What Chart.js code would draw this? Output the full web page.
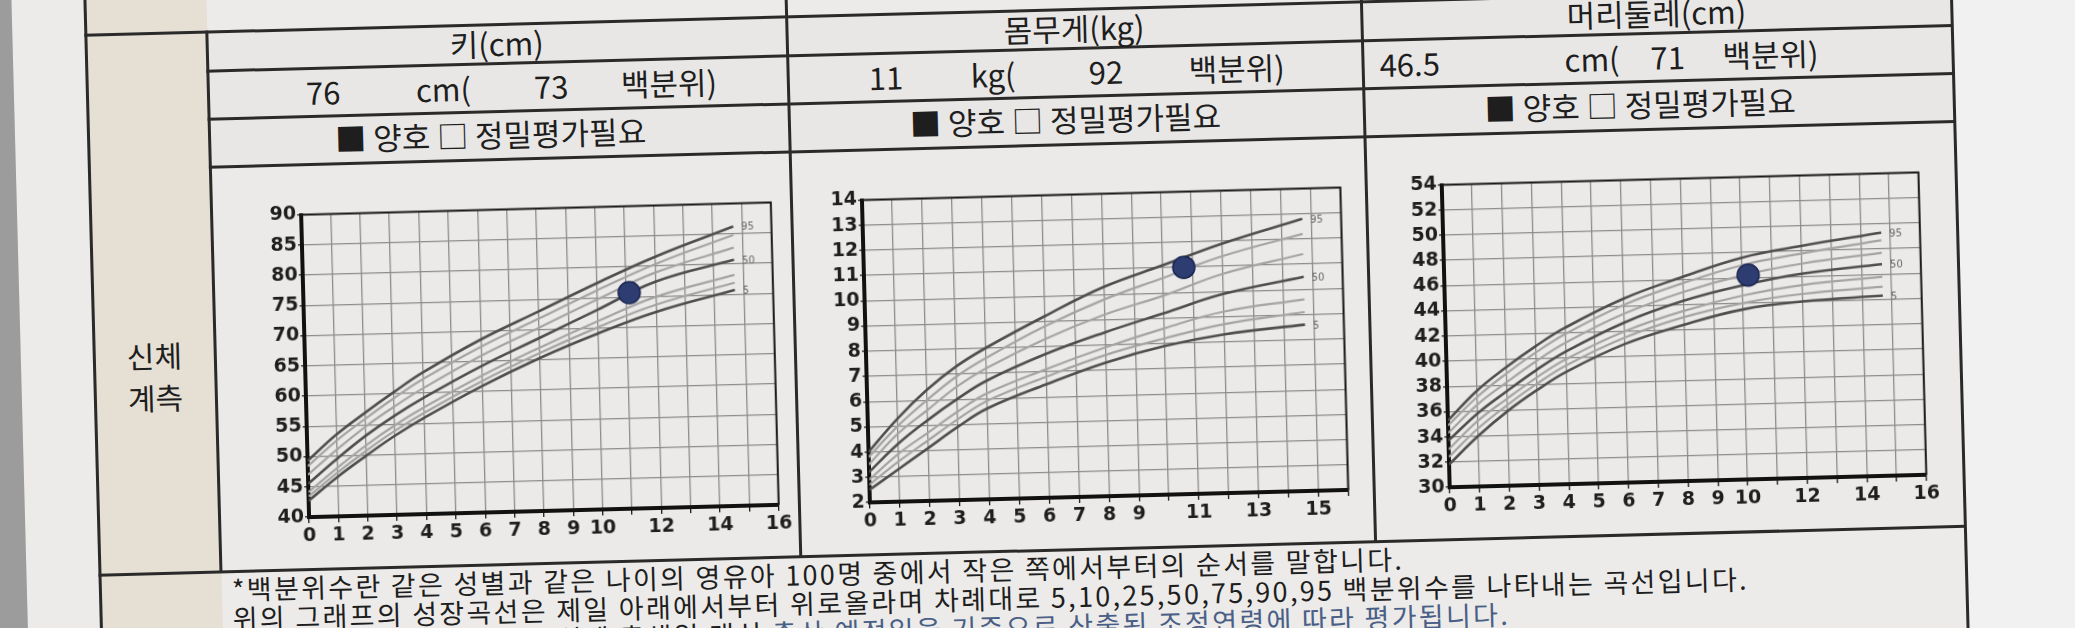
<!DOCTYPE html>
<html><head><meta charset="utf-8">
<script src="https://cdn.jsdelivr.net/npm/chart.js@4"></script>
<style>
html,body{margin:0;padding:0;width:2075px;height:628px;overflow:hidden;background:#8f8f8f;font-family:"Noto Sans CJK KR","Noto Sans",sans-serif;}
#page{position:absolute;left:0;top:0;width:2075px;height:628px;transform:rotate(-1.5deg);transform-origin:1037px 314px;}
.abs{position:absolute;}
.txt{position:absolute;color:#1e1e1e;font-size:31px;white-space:pre;}
.fn{position:absolute;color:#1e1e1e;font-size:27px;letter-spacing:2.3px;white-space:pre;line-height:29px;left:225px;}
.hl{position:absolute;height:3px;background:#2a2a2a;}
.vl{position:absolute;width:3px;background:#2a2a2a;}
canvas{position:absolute;}
</style></head><body>
<div id="page">
  <div class="abs" style="left:-60px;top:-60px;width:80px;height:760px;background:#9c9c9c"></div>
  <div class="abs" style="left:20px;top:-60px;width:1960px;height:760px;background:#ecebe9"></div>
  <div class="abs" style="left:1960px;top:-60px;width:200px;height:760px;background:#f1f1f2"></div>
  <div class="abs" style="left:92px;top:-60px;width:123px;height:760px;background:#e6dfd3"></div>
  <div class="abs" style="left:215px;top:9px;width:1745px;height:135px;background:#e8e7e5"></div>
  <div class="abs" style="left:215px;top:144px;width:1745px;height:406px;background:#eceae8"></div>
  <div class="vl" style="left:92px;top:-60px;height:760px"></div>
  <div class="vl" style="left:213px;top:9px;height:541px"></div>
  <div class="vl" style="left:793px;top:-60px;height:610px"></div>
  <div class="vl" style="left:1368px;top:-60px;height:610px"></div>
  <div class="vl" style="left:1958px;top:-60px;height:760px"></div>
  <div class="hl" style="left:92px;top:9px;width:1868px"></div>
  <div class="hl" style="left:213px;top:48px;width:1747px"></div>
  <div class="hl" style="left:213px;top:96px;width:1747px"></div>
  <div class="hl" style="left:213px;top:144px;width:1747px"></div>
  <div class="hl" style="left:92px;top:549px;width:1868px"></div>

  <div class="txt" style="left:215px;width:578px;top:9px;text-align:center;line-height:39px">키(cm)</div>
  <div class="txt" style="left:795px;width:573px;top:9px;text-align:center;line-height:39px">몸무게(kg)</div>
  <div class="txt" style="left:1370px;width:588px;top:9px;text-align:center;line-height:39px">머리둘레(cm)</div>

  <div class="txt" style="left:312px;top:51px;line-height:44px">76</div>
  <div class="txt" style="left:422px;top:51px;line-height:44px">cm(</div>
  <div class="txt" style="left:540px;top:51px;line-height:44px">73</div>
  <div class="txt" style="left:627px;top:51px;line-height:44px">백분위)</div>
  <div class="txt" style="left:875px;top:51px;line-height:44px">11</div>
  <div class="txt" style="left:977px;top:51px;line-height:44px">kg(</div>
  <div class="txt" style="left:1095px;top:51px;line-height:44px">92</div>
  <div class="txt" style="left:1195px;top:51px;line-height:44px">백분위)</div>
  <div class="txt" style="left:1386px;top:51px;line-height:44px">46.5</div>
  <div class="txt" style="left:1571px;top:51px;line-height:44px">cm(</div>
  <div class="txt" style="left:1657px;top:51px;line-height:44px">71</div>
  <div class="txt" style="left:1729px;top:51px;line-height:44px">백분위)</div>

  <div class="txt" style="left:340px;top:98px;line-height:44px">■ 양호 □ 정밀평가필요</div>
  <div class="txt" style="left:915px;top:98px;line-height:44px">■ 양호 □ 정밀평가필요</div>
  <div class="txt" style="left:1490px;top:98px;line-height:44px">■ 양호 □ 정밀평가필요</div>

  <div class="txt" style="left:126px;top:312px;line-height:40px;font-size:30px">신체</div>
  <div class="txt" style="left:126px;top:354px;line-height:40px;font-size:30px">계측</div>

  <canvas id="c1" style="left:256px;top:183px" width="533" height="345"></canvas>
  <canvas id="c2" style="left:817px;top:183px" width="539" height="345"></canvas>
  <canvas id="c3" style="left:1397px;top:183px" width="540" height="345"></canvas>

  <div class="fn" style="top:553px">*백분위수란 같은 성별과 같은 나이의 영유아 100명 중에서 작은 쪽에서부터의 순서를 말합니다.</div>
  <div class="fn" style="top:582px">위의 그래프의 성장곡선은 제일 아래에서부터 위로올라며 차례대로 5,10,25,50,75,90,95 백분위수를 나타내는 곡선입니다.</div>
  <div class="fn" style="top:611px">조산으로 출생한 영유아는 실제 출생일 대신 <span style="color:#4a5f86">출산 예정일을 기준으로 산출된 조정연령에 따라 평가됩니다.</span></div>
</div>
<script>
// ages (months) at which the percentile curves are read
const ages = [0,1,2,3,4,6,8,10,12,14.7];

// Height (cm)
const h5  = [42.7,46.5,49.9,53.1,55.9,60.9,65.3,69.1,72.4,75.7];
const h10 = [43.4,47.2,50.7,53.9,56.7,61.7,66.1,70.1,73.6,76.9];
const h25 = [44.1,48.0,51.6,54.8,57.6,62.6,67.0,71.1,74.9,78.2];
const h50 = [45.5,49.5,53.2,56.4,59.2,64.2,68.6,73.0,77.4,80.7];
const h75 = [47.0,51.0,54.7,57.9,60.8,65.9,70.3,74.7,78.9,82.7];
const h90 = [48.4,52.5,56.0,59.3,62.3,67.4,71.8,76.2,80.3,84.8];
const h95 = [49.3,53.5,57.0,60.3,63.4,68.6,73.0,77.4,81.5,86.2];
const hChild = {age:11.1, value:75.7};

// Weight (kg)
const w5  = [2.5,3.3,4.1,4.9,5.6,6.5,7.3,7.9,8.3,8.6];
const w10 = [2.7,3.6,4.4,5.2,5.9,6.8,7.6,8.2,8.7,9.1];
const w25 = [2.9,3.9,4.7,5.5,6.2,7.1,7.9,8.6,9.2,9.6];
const w50 = [3.2,4.3,5.2,6.0,6.7,7.7,8.5,9.2,9.9,10.5];
const w75 = [3.5,4.7,5.6,6.5,7.2,8.3,9.2,9.9,10.7,11.4];
const w90 = [3.8,5.0,6.0,6.9,7.6,8.8,9.8,10.6,11.4,12.2];
const w95 = [4.0,5.3,6.4,7.3,8.0,9.2,10.3,11.1,11.9,12.8];
const wChild = {age:10.7, value:11.0};

// Head circumference (cm)
const c5  = [31.8,34.0,35.9,37.5,38.9,41.0,42.4,43.5,44.0,44.3];
const c10 = [32.4,34.6,36.4,38.0,39.4,41.5,43.0,44.0,44.6,45.0];
const c25 = [33.0,35.2,36.9,38.5,39.9,42.0,43.5,44.6,45.3,45.8];
const c50 = [33.7,35.8,37.5,39.1,40.5,42.7,44.3,45.4,46.2,46.8];
const c75 = [34.3,36.5,38.2,39.8,41.2,43.4,45.0,46.2,47.0,47.7];
const c90 = [34.9,37.1,38.9,40.5,41.9,44.1,45.7,47.0,47.8,48.7];
const c95 = [35.3,37.6,39.4,41.0,42.4,44.6,46.2,47.6,48.4,49.3];
const cChild = {age:10.2, value:46.2};

const xLabels1 = [0,1,2,3,4,5,6,7,8,9,10,12,14,16];
const xLabels2 = [0,1,2,3,4,5,6,7,8,9,11,13,15];
const xLabels3 = [0,1,2,3,4,5,6,7,8,9,10,12,14,16];
const yTicks1 = {min:40,max:90,step:5};
const yTicks2 = {min:2,max:14,step:1};
const yTicks3 = {min:30,max:54,step:2};
const pctNames = ['5','10','25','50','75','90','95'];

const frame = {id:'frame',afterDraw(ch){const a=ch.chartArea,c=ch.ctx;c.save();c.strokeStyle='#1a1a1a';c.lineWidth=2;
  c.beginPath();c.moveTo(a.left,a.top);c.lineTo(a.right,a.top);c.lineTo(a.right,a.bottom);c.stroke();
  c.fillStyle='#666';c.font='10px "DejaVu Sans"';
  ch.data.datasets.forEach((d,i)=>{if(d.tag){const m=ch.getDatasetMeta(i);const p=m.data[m.data.length-1];c.fillText(d.tag,p.x+8,p.y+4);}});
  c.restore();}};

function make(id, series, child, xl, yt){
  const ds = series.map((s,i)=>{const dark=(i===0||i===3||i===6);return {
    type:'line',data:ages.map((a,j)=>({x:a,y:s[j]})),borderColor:dark?'#4e4e4e':'#a4a4a4',
    borderWidth:dark?2.6:2.2,pointRadius:0,tension:0.4,fill:false,tag:dark?pctNames[i]:null,order:2};});
  ds.push({type:'scatter',data:[{x:child.age,y:child.value}],pointRadius:11,backgroundColor:'#2d3d72',
    borderColor:'#1c2650',borderWidth:1.5,order:0});
  new Chart(document.getElementById(id),{data:{datasets:ds},plugins:[frame],
    options:{responsive:false,animation:false,layout:{padding:{top:10,right:10}},
      plugins:{legend:{display:false},tooltip:{enabled:false}},
      scales:{
        x:{type:'linear',min:0,max:16,afterFit(s){s.height=30;},
          ticks:{stepSize:1,autoSkip:false,color:'#1e1e1e',font:{size:19,weight:'bold',family:'"DejaVu Sans"'},padding:2,maxRotation:0,
            callback:v=>xl.includes(v)?String(v):''},
          grid:{color:'#8c8c8c',lineWidth:1.3,tickLength:6,tickColor:'#1a1a1a'},border:{color:'#111',width:4}},
        y:{min:yt.min,max:yt.max,afterFit(s){s.width=48;},
          ticks:{stepSize:yt.step,autoSkip:false,color:'#1e1e1e',font:{size:19,weight:'bold',family:'"DejaVu Sans"'},padding:1},
          grid:{color:'#8c8c8c',lineWidth:1.3,tickLength:4,tickColor:'#1a1a1a'},border:{color:'#111',width:4}}}}});
}
make('c1',[h5,h10,h25,h50,h75,h90,h95],hChild,xLabels1,yTicks1);
make('c2',[w5,w10,w25,w50,w75,w90,w95],wChild,xLabels2,yTicks2);
make('c3',[c5,c10,c25,c50,c75,c90,c95],cChild,xLabels3,yTicks3);
</script>
</body></html>
